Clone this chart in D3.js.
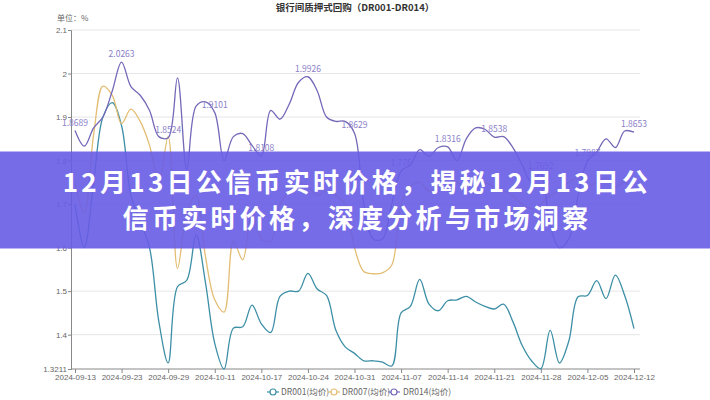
<!DOCTYPE html>
<html><head><meta charset="utf-8">
<script src="https://cdn.jsdelivr.net/npm/d3@7"></script>
<style>
html,body{margin:0;padding:0;background:#fff;}
svg{display:block;font-family:"Noto Sans CJK SC","Noto Sans",sans-serif;}
</style></head>
<body><svg id="c" width="710" height="400"></svg>
<script>
const dates = ["2024-09-13","2024-09-14","2024-09-18","2024-09-19","2024-09-20","2024-09-23","2024-09-24","2024-09-25","2024-09-26","2024-09-27","2024-09-29","2024-09-30","2024-10-08","2024-10-09","2024-10-10","2024-10-11","2024-10-12","2024-10-14","2024-10-15","2024-10-16","2024-10-17","2024-10-18","2024-10-21","2024-10-22","2024-10-23","2024-10-24","2024-10-25","2024-10-28","2024-10-29","2024-10-30","2024-10-31","2024-11-01","2024-11-04","2024-11-05","2024-11-06","2024-11-07","2024-11-08","2024-11-11","2024-11-12","2024-11-13","2024-11-14","2024-11-15","2024-11-18","2024-11-19","2024-11-20","2024-11-21","2024-11-22","2024-11-25","2024-11-26","2024-11-27","2024-11-28","2024-11-29","2024-12-02","2024-12-03","2024-12-04","2024-12-05","2024-12-06","2024-12-09","2024-12-10","2024-12-11","2024-12-12"];
const dr001 = [1.70,1.60,1.75,1.90,1.933,1.88,1.72,1.66,1.60,1.43,1.335,1.51,1.525,1.63,1.52,1.38,1.3211,1.415,1.418,1.468,1.425,1.405,1.488,1.50,1.50,1.541,1.505,1.49,1.41,1.372,1.357,1.34,1.34,1.337,1.328,1.45,1.465,1.527,1.47,1.455,1.478,1.48,1.488,1.475,1.465,1.459,1.47,1.43,1.375,1.34,1.322,1.41,1.335,1.385,1.487,1.49,1.524,1.483,1.537,1.49,1.414];
const dr007 = [1.75,1.68,1.86,1.971,1.95,1.885,1.918,1.89,1.835,1.75,1.855,1.552,1.68,1.72,1.58,1.48,1.452,1.615,1.572,1.68,1.62,1.615,1.70,1.73,1.75,1.74,1.72,1.73,1.72,1.70,1.60,1.545,1.54,1.542,1.56,1.70,1.74,1.75,1.73,1.74,1.76,1.75,1.74,1.76,1.75,1.74,1.73,1.72,1.70,1.69,1.70,1.72,1.73,1.75,1.76,1.74,1.75,1.76,1.74,1.75,1.73];
const dr014 = [1.8689,1.833,1.875,1.90,1.96,2.0263,1.97,1.95,1.915,1.855,1.8524,1.99,1.78,1.925,1.935,1.9101,1.80,1.855,1.862,1.835,1.8108,1.915,1.895,1.93,1.98,1.9926,1.96,1.90,1.89,1.89,1.8629,1.70,1.62,1.62,1.70,1.776,1.79,1.825,1.81,1.83,1.8316,1.80,1.85,1.875,1.872,1.8538,1.855,1.83,1.79,1.75,1.7692,1.65,1.60,1.62,1.72,1.7987,1.82,1.85,1.83,1.868,1.8653];
const yTicks = [1.3211,1.4,1.5,1.6,1.7,1.8,1.9,2,2.1];
const seriesNames = ["DR001(均价)","DR007(均价)","DR014(均价)"];
const colors = ["#3d8fa6","#e3bd73","#7468b8"];
const title = "银行间质押式回购（DR001-DR014）";
const unit = "单位：%";
const bannerLines = ["12月13日公信币实时价格，揭秘12月13日公","信币实时价格，深度分析与市场洞察"];

const svg = d3.select("#c");
const x = d3.scalePoint().domain(dates).range([75, 634]);
const y = d3.scaleLinear().domain([1.3211, 2.1]).range([369, 30]);

// grid
svg.append("g").selectAll("line").data(yTicks.filter(t=>t>1.3211)).join("line")
  .attr("x1",71).attr("x2",640).attr("y1",d=>y(d)).attr("y2",d=>y(d))
  .attr("stroke","#e6e6e6").attr("stroke-width",1);

// y axis
const yAxis = d3.axisLeft(y).tickValues(yTicks).tickSize(3).tickFormat(d=>String(d));
const gy = svg.append("g").attr("transform","translate(71,0)").call(yAxis);
gy.select(".domain").attr("stroke","#888");
gy.selectAll(".tick line").attr("stroke","#888");
gy.selectAll("text").attr("fill","#666").style("font-size","8px").attr("x",-4);

// x axis
const xAxis = d3.axisBottom(x).tickValues(dates.filter((d,i)=>i%5===0)).tickSize(4);
const gx = svg.append("g").attr("transform","translate(0,369)").call(xAxis);
gx.select(".domain").attr("d","M71,0H640").attr("stroke","#888");
gx.selectAll(".tick line").attr("stroke","#888");
gx.selectAll("text").attr("fill","#666").style("font-size","8px").attr("y",5);

// lines
const line = d3.line().x((d,i)=>x(dates[i])).y(d=>y(d)).curve(d3.curveCatmullRom.alpha(0.5));
[dr001,dr007,dr014].forEach((s,k)=>{
  svg.append("path").attr("d",line(s)).attr("fill","none").attr("stroke",colors[k]).attr("stroke-width",1.3);
});
// labels for DR014
svg.append("g").selectAll("text").data(dr014.map((v,i)=>({v,i})).filter(d=>d.i%5===0)).join("text")
  .attr("x",d=>x(dates[d.i])).attr("y",d=>y(d.v)-5).attr("text-anchor","middle")
  .attr("fill","#8a80c8").style("font-size","8.5px").text(d=>String(d.v));

// title
svg.append("text").attr("x",355).attr("y",11).attr("text-anchor","middle")
  .attr("fill","#333").style("font-size","9.5px").style("font-weight","bold").text(title);
svg.append("text").attr("x",57).attr("y",21).attr("fill","#666").style("font-size","8px").text(unit);

// legend
const lg = svg.append("g");
const legX = [267,328,388], legTx=[281,342,403];
seriesNames.forEach((n,k)=>{
  lg.append("line").attr("x1",legX[k]).attr("x2",legX[k]+12).attr("y1",392).attr("y2",392).attr("stroke",colors[k]).attr("stroke-width",1.2);
  lg.append("circle").attr("cx",legX[k]+6).attr("cy",392).attr("r",3).attr("fill","#fff").attr("stroke",colors[k]).attr("stroke-width",1.2);
  lg.append("text").attr("x",legTx[k]).attr("y",395).attr("fill","#666").style("font-size","8.5px").text(n);
});

// banner
svg.append("rect").attr("x",0).attr("y",151.5).attr("width",710).attr("height",97)
  .attr("fill","rgb(104,92,228)").attr("fill-opacity",0.9);
bannerLines.forEach((t,k)=>{
  svg.append("text").attr("x",357).attr("y",192+k*36).attr("text-anchor","middle")
    .attr("fill","#fff").style("font-size","26px").style("font-weight","bold").style("letter-spacing","3.3px")
    .text(t);
});
</script></body></html>
